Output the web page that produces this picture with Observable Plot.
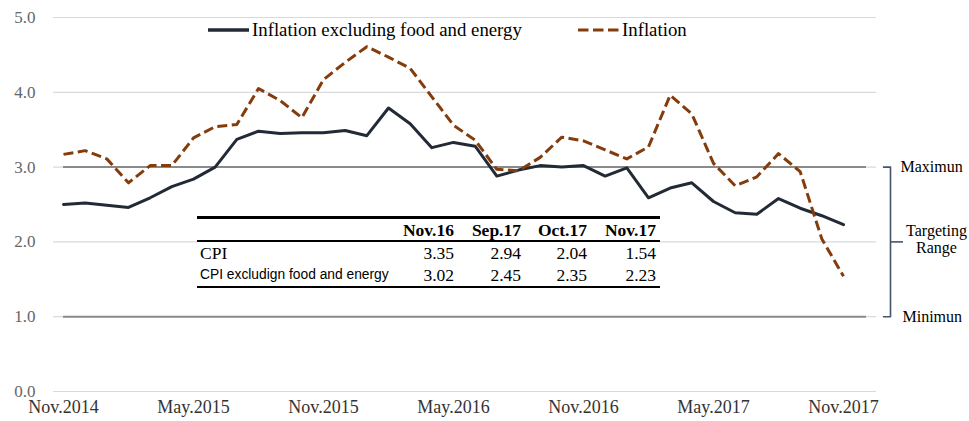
<!DOCTYPE html>
<html>
<head>
<meta charset="utf-8">
<script src="https://cdn.jsdelivr.net/npm/d3@7"></script>
<script src="https://cdn.jsdelivr.net/npm/@observablehq/plot@0.6"></script>
<style>
  html, body { margin: 0; padding: 0; background: #fff; }
  #wrap { position: relative; width: 969px; height: 421px; font-family: "Liberation Serif", serif; }
  .legend-item { position: absolute; top: 19px; height: 22px; display: flex; align-items: center; font-size: 18.8px; color: #000; white-space: nowrap; }
  .legend-item svg { margin-right: 3px; }
  #tbl { position: absolute; left: 197px; top: 216px; width: 463px; border-collapse: collapse; background: #fff; table-layout: fixed; }
  #tbl th, #tbl td { padding: 0 4px 0 0; text-align: right; font-size: 17.5px; line-height: 20px; white-space: nowrap; }
  #tbl thead tr { border-top: 3px solid #000; border-bottom: 2.5px solid #000; }
  #tbl thead th { height: 21px; font-weight: bold; }
  #tbl tbody tr:last-child { border-bottom: 2.5px solid #000; }
  #tbl tbody td { height: 22px; }
  #tbl td.lbl { text-align: left; padding-left: 3px; }
  #tbl td.sans { font-family: "Liberation Sans", sans-serif; font-size: 13.8px; }
</style>
</head>
<body>
<div id="wrap"></div>
<script>
// ---- data ----
const tickLabels = ["Nov.2014", "May.2015", "Nov.2015", "May.2016", "Nov.2016", "May.2017", "Nov.2017"];
const coreInflation = [2.50, 2.52, 2.49, 2.46, 2.59, 2.74, 2.84, 3.00, 3.37, 3.48, 3.45, 3.46, 3.46, 3.49, 3.42, 3.79, 3.58, 3.26, 3.33, 3.28, 2.88, 2.96, 3.02, 3.00, 3.02, 2.88, 2.99, 2.59, 2.72, 2.79, 2.54, 2.39, 2.37, 2.58, 2.45, 2.35, 2.23];
const inflation = [3.17, 3.22, 3.11, 2.79, 3.02, 3.02, 3.39, 3.54, 3.57, 4.05, 3.89, 3.66, 4.17, 4.40, 4.61, 4.47, 4.32, 3.94, 3.56, 3.36, 2.97, 2.95, 3.13, 3.40, 3.35, 3.23, 3.11, 3.27, 3.96, 3.71, 3.05, 2.75, 2.87, 3.18, 2.94, 2.04, 1.54];
const seriesNames = ["Inflation excluding food and energy", "Inflation"];
const yTicks = [0, 1, 2, 3, 4, 5];
const targetRange = [1, 3];
const rangeLabels = ["Maximun", "Targeting\nRange", "Minimun"];
const tableCols = ["Nov.16", "Sep.17", "Oct.17", "Nov.17"];
const tableRowNames = ["CPI", "CPI excludign food and energy"];
const cpiRow = [3.35, 2.94, 2.04, 1.54];
const coreRow = [3.02, 2.45, 2.35, 2.23];

const coreColor = "#222a35";
const cpiColor = "#843c0c";

const coreData = coreInflation.map((v, i) => ({i, v}));
const cpiData = inflation.map((v, i) => ({i, v}));
const nMonths = coreInflation.length - 1;
const x0 = 63, x1 = 843;
const px = p => (p - x0) / ((x1 - x0) / nMonths); // pixel -> x units for annotations

const plot = Plot.plot({
  width: 969,
  height: 421,
  marginLeft: 53,
  marginRight: 93,
  marginTop: 17,
  marginBottom: 30,
  style: {fontFamily: "Liberation Serif, serif", fontSize: "17px", background: "transparent"},
  x: {domain: [0, nMonths], range: [x0, x1]},
  y: {domain: [0, 5]},
  marks: [
    Plot.ruleY(yTicks, {stroke: "#d9d9d9", strokeWidth: 1.2}),
    Plot.ruleY(targetRange, {x1: 0, x2: px(866), stroke: "#8a8a8a", strokeWidth: 2}),
    Plot.axisY({ticks: yTicks, tickFormat: d3.format(".1f"), tickSize: 0, tickPadding: 18, fontSize: 17, color: "#666666"}),
    Plot.axisX({ticks: tickLabels.map((_, k) => k * 6), tickFormat: d => tickLabels[d / 6], tickSize: 0, tickPadding: 9, fontSize: 18, color: "#333333"}),
    Plot.line(coreData, {x: "i", y: "v", stroke: coreColor, strokeWidth: 3}),
    Plot.line(cpiData, {x: "i", y: "v", stroke: cpiColor, strokeWidth: 3, strokeDasharray: "10,4.5", strokeLinecap: "butt"}),
    // targeting range bracket
    Plot.line([
      {x: px(883), y: targetRange[1]}, {x: px(890), y: targetRange[1]},
      {x: px(890), y: targetRange[0]}, {x: px(883), y: targetRange[0]}
    ], {x: "x", y: "y", stroke: "#44546a", strokeWidth: 1.6, strokeLinejoin: "round"}),
    Plot.ruleY([(targetRange[0] + targetRange[1]) / 2], {x1: px(890), x2: px(903), stroke: "#44546a", strokeWidth: 1.6}),
    Plot.text([rangeLabels[0]], {x: px(900), y: targetRange[1], text: d => d, textAnchor: "start", fontSize: 16, fill: "#000"}),
    Plot.text([rangeLabels[1]], {x: px(936), y: (targetRange[0] + targetRange[1]) / 2, text: d => d, textAnchor: "middle", fontSize: 16, lineHeight: 1.1, dy: -3, fill: "#000"}),
    Plot.text([rangeLabels[2]], {x: px(902), y: targetRange[0], text: d => d, textAnchor: "start", fontSize: 16, fill: "#000"})
  ]
});

const wrap = document.getElementById("wrap");
wrap.appendChild(plot);

// legend
function legendItem(left, name, dashed, color) {
  const div = document.createElement("div");
  div.className = "legend-item";
  div.style.left = left + "px";
  const ns = "http://www.w3.org/2000/svg";
  const svg = document.createElementNS(ns, "svg");
  svg.setAttribute("width", 41);
  svg.setAttribute("height", 10);
  const ln = document.createElementNS(ns, "line");
  ln.setAttribute("x1", 0); ln.setAttribute("x2", 41);
  ln.setAttribute("y1", 5); ln.setAttribute("y2", 5);
  ln.setAttribute("stroke", color);
  ln.setAttribute("stroke-width", dashed ? 3.2 : 3.5);
  if (dashed) ln.setAttribute("stroke-dasharray", "10.5,4.5");
  svg.appendChild(ln);
  div.appendChild(svg);
  const span = document.createElement("span");
  span.textContent = name;
  div.appendChild(span);
  wrap.appendChild(div);
}
legendItem(208, seriesNames[0], false, coreColor);
legendItem(578, seriesNames[1], true, cpiColor);

// table
const tbl = document.createElement("table");
tbl.id = "tbl";
const colW = [195, 66, 67, 66, 69];
const cg = document.createElement("colgroup");
colW.forEach(w => { const c = document.createElement("col"); c.style.width = w + "px"; cg.appendChild(c); });
tbl.appendChild(cg);
const thead = document.createElement("thead");
const hr = document.createElement("tr");
hr.appendChild(document.createElement("th"));
tableCols.forEach(c => { const th = document.createElement("th"); th.textContent = c; hr.appendChild(th); });
thead.appendChild(hr);
tbl.appendChild(thead);
const tbody = document.createElement("tbody");
[cpiRow, coreRow].forEach((row, r) => {
  const tr = document.createElement("tr");
  const td0 = document.createElement("td");
  td0.className = "lbl" + (r === 1 ? " sans" : "");
  td0.textContent = tableRowNames[r];
  tr.appendChild(td0);
  row.forEach(v => { const td = document.createElement("td"); td.textContent = v.toFixed(2); tr.appendChild(td); });
  tbody.appendChild(tr);
});
tbl.appendChild(tbody);
wrap.appendChild(tbl);
</script>
</body>
</html>
